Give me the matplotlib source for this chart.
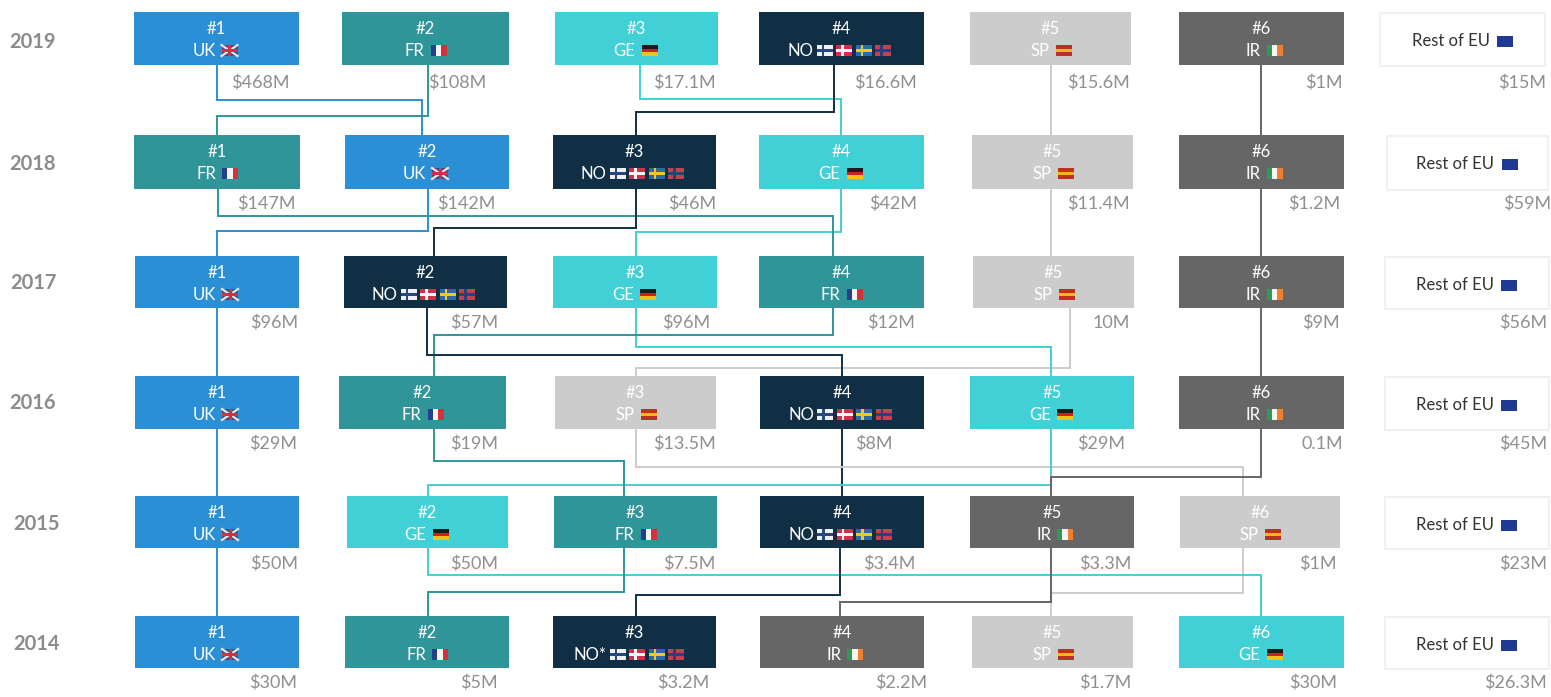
import matplotlib.pyplot as plt
from matplotlib.patches import Rectangle

plt.rcParams['font.family'] = ['Lato', 'DejaVu Sans']

years = [2019, 2018, 2017, 2016, 2015, 2014]

rank_2019 = ["UK", "FR", "GE", "NO", "SP", "IR"]
rank_2018 = ["FR", "UK", "NO", "GE", "SP", "IR"]
rank_2017 = ["UK", "NO", "GE", "FR", "SP", "IR"]
rank_2016 = ["UK", "FR", "SP", "NO", "GE", "IR"]
rank_2015 = ["UK", "GE", "FR", "NO", "IR", "SP"]
rank_2014 = ["UK", "FR", "NO", "IR", "SP", "GE"]
ranks = [rank_2019, rank_2018, rank_2017, rank_2016, rank_2015, rank_2014]

money_2019 = ["$468M", "$108M", "$17.1M", "$16.6M", "$15.6M", "$1M", "$15M"]
money_2018 = ["$147M", "$142M", "$46M", "$42M", "$11.4M", "$1.2M", "$59M"]
money_2017 = ["$96M", "$57M", "$96M", "$12M", "10M", "$9M", "$56M"]
money_2016 = ["$29M", "$19M", "$13.5M", "$8M", "$29M", "0.1M", "$45M"]
money_2015 = ["$50M", "$50M", "$7.5M", "$3.4M", "$3.3M", "$1M", "$23M"]
money_2014 = ["$30M", "$5M", "$3.2M", "$2.2M", "$1.7M", "$30M", "$26.3M"]
money = [money_2019, money_2018, money_2017, money_2016, money_2015, money_2014]

colors = {"UK": "#2A8FD4", "FR": "#2F9599", "GE": "#41D0D6", "NO": "#102F44",
          "SP": "#CCCCCC", "IR": "#666666"}

# box edges in picture pixels: x0, x1 per column, then y0, y1 per row
box_x = [
    [(134, 299), (342, 509), (555, 718), (759, 924), (970, 1131), (1179, 1344), (1380, 1545)],
    [(134, 300), (345, 509), (553, 716), (759, 924), (972, 1133), (1179, 1344), (1387, 1548)],
    [(135, 299), (344, 507), (553, 717), (759, 924), (973, 1134), (1179, 1344), (1385, 1549)],
    [(135, 299), (339, 506), (555, 716), (760, 924), (970, 1134), (1179, 1344), (1385, 1549)],
    [(135, 299), (347, 508), (554, 717), (760, 924), (970, 1134), (1180, 1340), (1385, 1549)],
    [(135, 299), (345, 509), (553, 716), (760, 924), (972, 1133), (1179, 1344), (1385, 1549)],
]
box_y = [(12, 65), (135, 189), (256, 308), (376, 429), (496, 548), (616, 668)]
year_y = [42, 164, 283, 403, 524, 644]
year_x = [32, 32, 33, 33, 36, 36]

# right edge of the money labels
money_right = [
    [290, 486, 716, 917, 1130, 1343, 1546],
    [296, 495, 716, 917, 1130, 1340, 1551],
    [298, 498, 710, 915, 1130, 1340, 1547],
    [297, 498, 716, 893, 1125, 1343, 1547],
    [298, 498, 715, 915, 1131, 1337, 1547],
    [297, 498, 709, 927, 1131, 1337, 1547],
]
money_y = [83, 204, 323, 444, 564, 683]

# connectors between rows: country, x leaving, lane y, x arriving
routes_2019 = [("SP", 1051, 100, 1051), ("IR", 1261, 100, 1261), ("GE", 640, 99, 841),
               ("UK", 217, 100, 422), ("FR", 428, 116, 217), ("NO", 834, 112, 636)]
routes_2018 = [("SP", 1051, 220, 1051), ("IR", 1261, 220, 1261), ("GE", 841, 232, 636),
               ("FR", 218, 216, 833), ("UK", 428, 231, 217), ("NO", 636, 228, 434)]
routes_2017 = [("IR", 1261, 340, 1261), ("UK", 217, 340, 217), ("SP", 1070, 368, 636),
               ("GE", 636, 347, 1051), ("FR", 833, 335, 434), ("NO", 427, 355, 842)]
routes_2016 = [("UK", 217, 460, 217), ("NO", 842, 460, 842), ("SP", 636, 467, 1243),
               ("GE", 1051, 485, 428), ("FR", 434, 461, 624), ("IR", 1261, 477, 1051)]
routes_2015 = [("UK", 217, 580, 217), ("SP", 1243, 593, 1051), ("GE", 428, 575, 1261),
               ("FR", 624, 592, 428), ("NO", 840, 595, 636), ("IR", 1051, 602, 840)]
routes = [routes_2019, routes_2018, routes_2017, routes_2016, routes_2015]

flag_w = 16
flag_h = 11


def draw_stripes(ax, x, y, cols, vertical=True):
    n = len(cols)
    for i, c in enumerate(cols):
        if vertical:
            r = Rectangle((x + i * flag_w / n, y), flag_w / n, flag_h, fc=c, lw=0, zorder=5)
        else:
            r = Rectangle((x, y + i * flag_h / n), flag_w, flag_h / n, fc=c, lw=0, zorder=5)
        ax.add_patch(r)


def draw_cross(ax, x, y, bg, fg):
    ax.add_patch(Rectangle((x, y), flag_w, flag_h, fc=bg, lw=0, zorder=5))
    ax.add_patch(Rectangle((x + 5, y), 2.5, flag_h, fc=fg, lw=0, zorder=6))
    ax.add_patch(Rectangle((x, y + 4.2), flag_w, 2.5, fc=fg, lw=0, zorder=6))


def draw_flag(ax, x, y, name):
    if name == "UK":
        draw_stripes(ax, x, y, ["#3A4E8C"])
        ax.plot([x, x + flag_w], [y, y + flag_h], color="#F0E0E0", lw=1.6, zorder=6)
        ax.plot([x, x + flag_w], [y + flag_h, y], color="#F0E0E0", lw=1.6, zorder=6)
        ax.add_patch(Rectangle((x + 6.5, y), 3, flag_h, fc="#D0304A", lw=0, zorder=7))
        ax.add_patch(Rectangle((x, y + 4), flag_w, 3, fc="#D0304A", lw=0, zorder=7))
    elif name == "FR":
        draw_stripes(ax, x, y, ["#23408F", "#F5F5F5", "#D8303A"])
    elif name == "GE":
        draw_stripes(ax, x, y, ["#1A1A1A", "#C8202A", "#F2C21A"], vertical=False)
    elif name == "SP":
        draw_stripes(ax, x, y, ["#C03020", "#F0B820", "#C03020"], vertical=False)
    elif name == "IR":
        draw_stripes(ax, x, y, ["#2E9A5A", "#F5F5F5", "#EE8030"])
    elif name == "FI":
        draw_cross(ax, x, y, "#F0F0F0", "#24487F")
    elif name == "DK":
        draw_cross(ax, x, y, "#D0304A", "#F5F5F5")
    elif name == "SE":
        draw_cross(ax, x, y, "#2A6AA8", "#F2C81E")
    elif name == "NW":
        draw_cross(ax, x, y, "#C8404A", "#2A3F7F")
    elif name == "EU":
        draw_stripes(ax, x, y, ["#1F3A93"])


def plot_chart():
    fig = plt.figure(figsize=(15.51, 6.97), dpi=100)
    ax = fig.add_axes([0, 0, 1, 1])
    ax.set_xlim(0, 1551)
    ax.set_ylim(697, 0)
    ax.axis("off")

    for r, row in enumerate(routes):
        for name, x0, lane, x1 in row:
            y0 = box_y[r][1]
            y1 = box_y[r + 1][0]
            ax.plot([x0, x0, x1, x1], [y0, lane, lane, y1], color=colors[name],
                    lw=1.4, solid_joinstyle="miter", zorder=2)

    for r, year in enumerate(years):
        y0, y1 = box_y[r]
        ax.text(year_x[r], year_y[r], str(year), ha="center", va="center",
                fontsize=14.5, fontweight="bold", color="#8C8C8C")
        for c, name in enumerate(ranks[r]):
            x0, x1 = box_x[r][c]
            cx = (x0 + x1) / 2
            ax.add_patch(Rectangle((x0, y0), x1 - x0, y1 - y0, fc=colors[name], lw=0, zorder=3))
            ax.text(cx, y0 + 17, "#%d" % (c + 1), ha="center", va="center",
                    fontsize=12, color="white", zorder=6)
            label = name
            if name == "NO" and year == 2014:
                label = "NO*"
            if name == "NO":
                ax.text(cx - 28, y0 + 39, label, ha="right", va="center",
                        fontsize=12, color="white", zorder=6)
                for i, f in enumerate(["FI", "DK", "SE", "NW"]):
                    draw_flag(ax, cx - 25 + i * 19.5, y0 + 33, f)
            else:
                ax.text(cx - 1, y0 + 39, label, ha="right", va="center",
                        fontsize=12, color="white", zorder=6)
                draw_flag(ax, cx + 5, y0 + 33, name)
        # rest of EU box
        x0, x1 = box_x[r][6]
        cx = (x0 + x1) / 2
        ax.add_patch(Rectangle((x0, y0 + 1), x1 - x0, y1 - y0, fc="white", ec="#F0F0F0",
                               lw=1.5, zorder=3))
        ax.text(cx + 27, y0 + 29, "Rest of EU", ha="right", va="center",
                fontsize=12, color="#333333", zorder=6)
        draw_flag(ax, cx + 34, y0 + 24, "EU")
        for c, val in enumerate(money[r]):
            ax.text(money_right[r][c], money_y[r], val, ha="right", va="center",
                    fontsize=13, color="#8F8F8F", zorder=6)

    fig.savefig("out.png", dpi=100, facecolor="white")


if __name__ == "__main__":
    plot_chart()
